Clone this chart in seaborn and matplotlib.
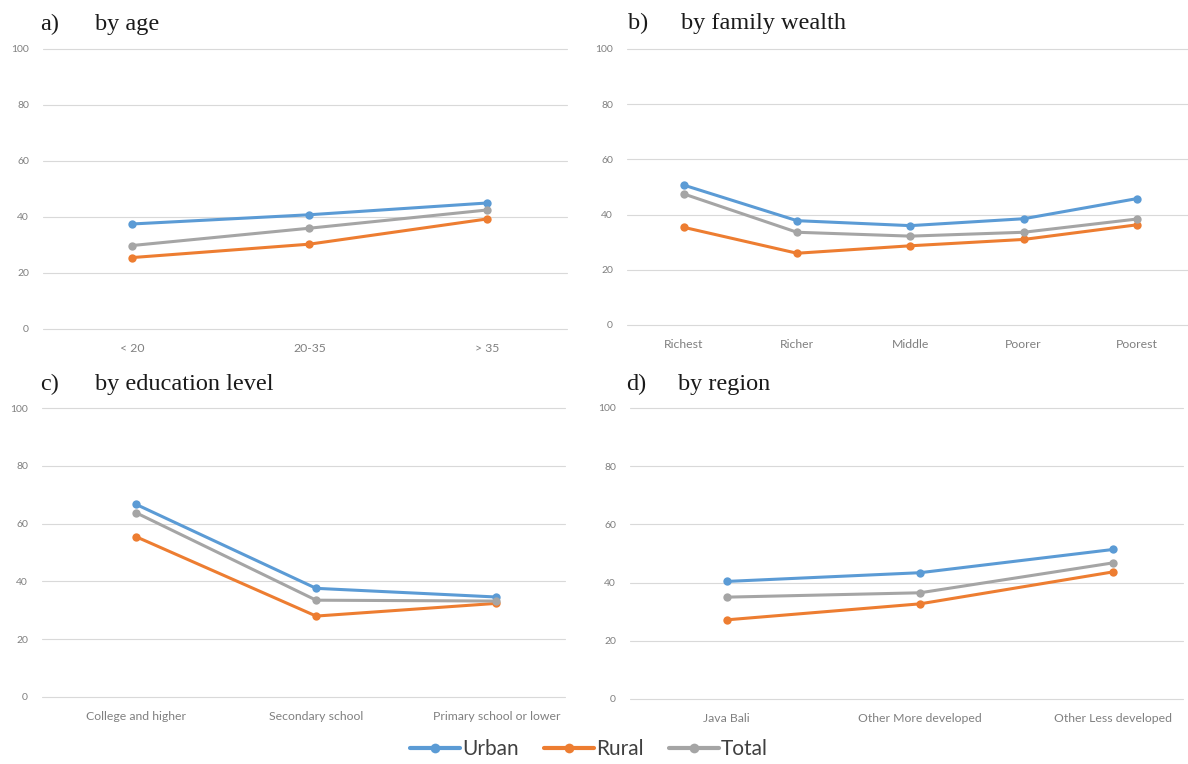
import numpy as np
import pandas as pd
import matplotlib
matplotlib.use("Agg")
import matplotlib.pyplot as plt
import seaborn as sns
from matplotlib.lines import Line2D

# ---------------- data ----------------
series = ["Urban", "Rural", "Total"]

age_cats = ["< 20", "20-35", "> 35"]
age_urban = [37.5, 40.8, 45.0]
age_rural = [25.5, 30.3, 39.3]
age_total = [29.8, 36.0, 42.5]

wealth_cats = ["Richest", "Richer", "Middle", "Poorer", "Poorest"]
wealth_urban = [50.7, 37.8, 36.0, 38.5, 45.8]
wealth_rural = [35.4, 26.0, 28.7, 31.0, 36.3]
wealth_total = [47.5, 33.6, 32.2, 33.6, 38.4]

edu_cats = ["College and higher", "Secondary school", "Primary school or lower"]
edu_urban = [66.7, 37.6, 34.6]
edu_rural = [55.5, 28.0, 32.4]
edu_total = [63.8, 33.5, 33.2]

region_cats = ["Java Bali", "Other More developed", "Other Less developed"]
region_urban = [40.4, 43.4, 51.4]
region_rural = [27.2, 32.7, 43.7]
region_total = [35.0, 36.5, 46.8]

panel_letters = ["a)", "b)", "c)", "d)"]
panel_titles = ["by age", "by family wealth", "by education level", "by region"]
y_ticks = [0, 20, 40, 60, 80, 100]

colors = {"Urban": "#5B9BD5", "Rural": "#ED7D31", "Total": "#A5A5A5"}

def long_frame(cats, urban, rural, total):
    rows = []
    for name, vals in zip(series, [urban, rural, total]):
        for c, v in zip(cats, vals):
            rows.append({"cat": c, "value": v, "series": name})
    return pd.DataFrame(rows)

panels = [
    (age_cats, age_urban, age_rural, age_total),
    (wealth_cats, wealth_urban, wealth_rural, wealth_total),
    (edu_cats, edu_urban, edu_rural, edu_total),
    (region_cats, region_urban, region_rural, region_total),
]

# ---------------- layout (pixels) ----------------
W, H = 1188, 764
boxes = [  # left, right, top, bottom
    (43, 567, 49, 329),
    (627, 1188, 49, 325),
    (42, 565, 408, 697),
    (630, 1183, 408, 699),
]
xlims = [(-0.5, 2.45), (-0.5, 4.45), (-0.52, 2.38), (-0.5, 2.36)]
title_pos = [  # letter x, title x, baseline y
    (40, 95, 30),
    (628, 681, 29),
    (40, 95, 390),
    (626, 678, 390),
]

sns.set_theme(style="white")
plt.rcParams["font.family"] = ["Lato", "DejaVu Sans"]

fig = plt.figure(figsize=(W / 100, H / 100), dpi=100)

for i, (data, box, xl, tp) in enumerate(zip(panels, boxes, xlims, title_pos)):
    l, r, t, b = box
    ax = fig.add_axes([l / W, 1 - b / H, (r - l) / W, (b - t) / H])
    df = long_frame(*data)
    sns.lineplot(data=df, x="cat", y="value", hue="series", hue_order=series,
                 palette=colors, marker="o", markersize=6, markeredgewidth=0,
                 linewidth=2.2, sort=False, ax=ax, legend=False)
    ax.set_xlim(*xl)
    ax.set_ylim(0, 100)
    ax.set_yticks(y_ticks)
    ax.set_yticklabels([str(v) for v in y_ticks])
    ax.set_xlabel("")
    ax.set_ylabel("")
    ax.grid(axis="y", color="#d9d9d9", linewidth=0.8)
    ax.grid(axis="x", visible=False)
    for gl in ax.get_ygridlines():
        gl.set_clip_on(False)
    ax.set_axisbelow(True)
    for s in ax.spines.values():
        s.set_visible(False)
    ax.tick_params(axis="both", length=0, labelcolor="#808080")
    ax.tick_params(axis="y", pad=10, labelsize=7.5)
    ax.tick_params(axis="x", pad=10, labelsize=8.8)
    lx, tx, by = tp
    fig.text(lx / W, 1 - by / H, panel_letters[i], family="Liberation Serif",
             fontsize=17.5, color="#1a1a1a", va="baseline", ha="left")
    fig.text(tx / W, 1 - by / H, panel_titles[i], family="Liberation Serif",
             fontsize=17.5, color="#1a1a1a", va="baseline", ha="left")

handles = [Line2D([0], [0], color=colors[s], linewidth=3, marker="o",
                  markersize=7, markeredgewidth=0) for s in series]
fig.legend(handles, series, loc="center", bbox_to_anchor=(589 / W, 1 - 749 / H),
           ncol=3, frameon=False, fontsize=15, handlelength=2.4,
           handletextpad=0.1, columnspacing=1.2, labelcolor="#404040")

fig.savefig("out.png", dpi=100)
